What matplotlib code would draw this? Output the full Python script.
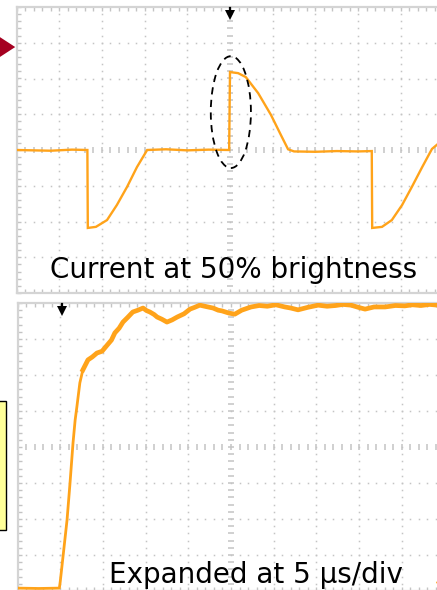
import numpy as np
import matplotlib
matplotlib.use("Agg")
import matplotlib.pyplot as plt
from matplotlib.patches import Ellipse, Polygon, Rectangle

# Oscilloscope traces, in divisions (x: -5..5, y: -4..4)

# upper panel: current at 50% brightness
top_x = [-5.0, -4.2, -3.7, -3.34, -3.33, -3.14, -2.88, -2.65, -2.41, -2.18, -1.94, -1.5, -1.0,
         -0.5, -0.02, 0.0, 0.19, 0.37, 0.66, 0.96, 1.20, 1.36, 1.5, 2.0, 2.5, 3.0,
         3.32, 3.33, 3.56, 3.79, 4.03, 4.26, 4.50, 4.73, 4.85]
top_y = [0.0, -0.02, 0.01, 0.0, -2.18, -2.15, -1.96, -1.54, -1.03, -0.48, 0.0, 0.02, -0.01,
         0.01, 0.0, 2.18, 2.15, 2.04, 1.59, 0.98, 0.40, 0.02, -0.04, -0.05, -0.03, -0.04,
         -0.03, -2.18, -2.15, -1.96, -1.54, -1.03, -0.48, 0.03, 0.15]

# lower panel: rising edge expanded at 5 us/div
rise_x = [-5.0, -4.5, -4.02, -4.0, -3.93, -3.84, -3.77, -3.70, -3.65, -3.61,
          -3.54, -3.47]
rise_y = [-3.92, -3.93, -3.92, -3.75, -3.0, -2.03, -1.0, 0.11, 0.75, 1.11,
          1.78, 2.14]
flat_x = [-3.47, -3.35, -3.25, -3.14, -3.02, -2.90, -2.80, -2.72, -2.62, -2.53,
          -2.42, -2.30, -2.18, -2.06, -1.98, -1.90, -1.80, -1.73, -1.62, -1.50,
          -1.38, -1.26, -1.10, -0.96, -0.85, -0.73, -0.58, -0.42, -0.30, -0.21,
          -0.05, 0.09, 0.25, 0.47, 0.66, 0.85, 1.05, 1.26, 1.40, 1.57, 1.80,
          2.04, 2.25, 2.45, 2.62, 2.81, 2.98, 3.14, 3.35, 3.61, 3.85, 4.07,
          4.25, 4.45, 4.65, 4.85]
flat_y = [2.14, 2.42, 2.50, 2.61, 2.66, 2.83, 2.97, 3.17, 3.30, 3.47,
          3.60, 3.75, 3.80, 3.86, 3.79, 3.75, 3.68, 3.61, 3.55, 3.47,
          3.53, 3.61, 3.70, 3.83, 3.88, 3.94, 3.90, 3.86, 3.80, 3.78,
          3.72, 3.69, 3.80, 3.89, 3.93, 3.91, 3.95, 3.89, 3.86, 3.81, 3.88,
          3.94, 3.91, 3.93, 3.96, 3.94, 3.88, 3.83, 3.89, 3.89, 3.93, 3.92,
          3.95, 3.93, 3.96, 3.94]

top_label = "Current at 50% brightness"
bot_label = "Expanded at 5 µs/div"

TRACE = "#ffa31a"
GRID = "#c4c4c4"
FRAME = "#d4d4d4"

W, H = 437, 590
fig = plt.figure(figsize=(W / 100, H / 100), dpi=100)
plt.rcParams['font.family'] = ['DejaVu Sans']


def scope_axes(left, top, right, bottom):
    ax = fig.add_axes([left / W, 1 - bottom / H, (right - left) / W, (bottom - top) / H])
    ax.set_xlim(-5, 5)
    ax.set_ylim(-4, 4)
    xx = np.arange(-5, 5.001, 0.2)
    yy = np.arange(-4, 4.001, 0.2)
    # dotted graticule
    for xv in [-4, -3, -2, -1, 1, 2, 3, 4]:
        ax.plot(np.full(len(yy), xv), yy, ls='none', marker='s', ms=1.1, mew=0, color=GRID)
    for yv in [-3, -2, -1, 1, 2, 3]:
        ax.plot(xx, np.full(len(xx), yv), ls='none', marker='s', ms=1.1, mew=0, color=GRID)
    # centre axes with small ticks
    ax.plot(np.zeros(len(yy)), yy, ls='none', marker='_', ms=4.5, mew=1.1, color=GRID)
    ax.plot(xx, np.zeros(len(xx)), ls='none', marker='|', ms=4.5, mew=1.1, color=GRID)
    ax.set_xticks(xx)
    ax.set_yticks(yy)
    ax.tick_params(direction='in', length=3, width=1, color=GRID, top=True, right=True,
                   labelbottom=False, labelleft=False)
    for s in ax.spines.values():
        s.set_color(FRAME)
        s.set_linewidth(1.6)
    ax.set_facecolor('white')
    return ax


def trigger_arrow(ax, x):
    # small black down arrow at the top edge
    ax.plot([x, x], [3.97, 3.80], color='black', lw=1.6, clip_on=False, zorder=8)
    ax.plot([x], [3.78], marker='v', ms=6.5, mew=0, color='black', clip_on=False, zorder=8)


ax1 = scope_axes(16.5, 7, 443.5, 293)
ax1.plot(top_x, top_y, color=TRACE, lw=1.7, zorder=5, solid_joinstyle='miter')
ax1.add_patch(Ellipse((0.02, 1.06), 0.94, 3.13, fill=False, ec='black', lw=1.3,
                      ls=(0, (4, 3)), zorder=6))
ax1.text(0.08, -3.58, top_label, ha='center', va='baseline', fontsize=20, zorder=7)
trigger_arrow(ax1, 0.0)
ax1.add_patch(Polygon([(-5.03, 2.88), (-5.7, 3.4), (-5.7, 2.36)], closed=True,
                      fc='#a50021', ec='none', clip_on=False, zorder=8))

ax2 = scope_axes(17.5, 303, 444.5, 591)
ax2.plot(rise_x, rise_y, color=TRACE, lw=2.0, zorder=5)
ax2.plot(flat_x, flat_y, color=TRACE, lw=3.4, zorder=5)
ax2.text(0.58, -3.78, bot_label, ha='center', va='baseline', fontsize=20, zorder=7)
trigger_arrow(ax2, -3.96)
ax2.plot([4.86], [-3.75], marker='<', ms=5, color=TRACE, clip_on=False, zorder=8)
ax2.add_patch(Rectangle((-6.0, -2.31), 0.73, 3.59, fc='#ffff99', ec='black', lw=1.0,
                        clip_on=False, zorder=8))

fig.savefig("out.png", dpi=100)
